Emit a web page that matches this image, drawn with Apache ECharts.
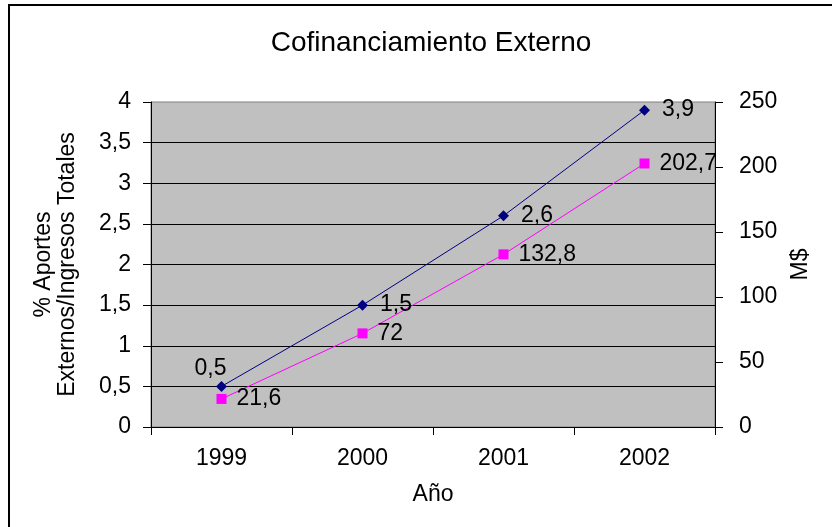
<!DOCTYPE html>
<html>
<head>
<meta charset="utf-8">
<script src="https://cdn.jsdelivr.net/npm/echarts@6/dist/echarts.min.js"></script>
<style>
    html,body{margin:0;padding:0;background:#fff;overflow:hidden;}
    #main{width:832px;height:527px;position:relative;}
    /* marco del grafico, el borde derecho e inferior quedan fuera */
    .marco{position:absolute;left:8px;top:4px;width:900px;height:600px;border:2px solid #000;box-sizing:border-box;pointer-events:none;}
</style>
</head>
<body>
<div id="main"></div>
<div class="marco"></div>
<script>
// datos
var anios = ['1999', '2000', '2001', '2002'];
var porcAportes = [0.5, 1.5, 2.6, 3.9];
var montoMS = [21.6, 72, 132.8, 202.7];

var fuente = 'Liberation Sans';
var tam = 23;

function coma(v) {
    return String(v).replace('.', ',');
}

var chart = echarts.init(document.getElementById('main'));

let option = {
    backgroundColor: 'transparent',
    animation: false,
    textStyle: {fontFamily: fuente},
    title: {
        text: 'Cofinanciamiento Externo',
        left: 426,
        textAlign: 'center',
        top: 24,
        textStyle: {fontFamily: fuente, fontSize: 28, fontWeight: 'normal', color: '#000'}
    },
    grid: {
        left: 151,
        right: 117,
        top: 102,
        bottom: 100,
        show: true,
        backgroundColor: '#c0c0c0',
        borderColor: '#808080',
        borderWidth: 1
    },
    xAxis: {
        type: 'category',
        data: anios,
        boundaryGap: true,
        name: 'Año',
        nameLocation: 'middle',
        nameGap: 56,
        nameTextStyle: {fontFamily: fuente, fontSize: tam, color: '#000'},
        axisLine: {lineStyle: {color: '#000', width: 1}},
        axisTick: {show: true, length: 8, lineStyle: {color: '#000'}},
        axisLabel: {margin: 20, fontFamily: fuente, fontSize: tam, color: '#000'}
    },
    yAxis: [
        {
            type: 'value',
            min: 0,
            max: 4,
            interval: 0.5,
            name: '% Aportes\nExternos/Ingresos Totales',
            nameLocation: 'middle',
            nameRotate: 90,
            nameGap: 71,
            nameTextStyle: {fontFamily: fuente, fontSize: tam, color: '#000', lineHeight: 24},
            axisLine: {show: true, lineStyle: {color: '#000', width: 1}},
            axisTick: {show: true, length: 8, lineStyle: {color: '#000'}},
            axisLabel: {margin: 20, fontFamily: fuente, fontSize: tam, color: '#000', formatter: coma},
            splitLine: {show: true, showMaxLine: false, lineStyle: {color: '#000', width: 1}}
        },
        {
            type: 'value',
            min: 0,
            max: 250,
            interval: 50,
            position: 'right',
            name: 'M$',
            nameLocation: 'middle',
            nameRotate: 90,
            nameGap: 74,
            nameTextStyle: {fontFamily: fuente, fontSize: tam, color: '#000'},
            axisLine: {show: true, lineStyle: {color: '#000', width: 1}},
            axisTick: {show: true, length: 8, lineStyle: {color: '#000'}},
            axisLabel: {margin: 24, fontFamily: fuente, fontSize: tam, color: '#000'},
            splitLine: {show: false}
        }
    ],
    series: [
        {
            name: '% Aportes',
            type: 'line',
            yAxisIndex: 0,
            data: porcAportes.map(function (v, i) {
                if (i == 0) {
                    return {value: v, label: {position: 'top', distance: 1, offset: [-11, 0]}};
                }
                return v;
            }),
            symbol: 'diamond',
            symbolSize: 11,
            showAllSymbol: true,
            lineStyle: {color: '#000080', width: 1},
            itemStyle: {color: '#000080'},
            label: {
                show: true,
                position: 'right',
                distance: 12,
                fontFamily: fuente,
                fontSize: tam,
                color: '#000',
                formatter: function (p) { return coma(p.value); }
            },
            z: 3
        },
        {
            name: 'M$',
            type: 'line',
            yAxisIndex: 1,
            data: montoMS,
            symbol: 'rect',
            symbolSize: 10,
            showAllSymbol: true,
            lineStyle: {color: '#ff00ff', width: 1},
            itemStyle: {color: '#ff00ff'},
            label: {
                show: true,
                position: 'right',
                distance: 10,
                fontFamily: fuente,
                fontSize: tam,
                color: '#000',
                formatter: function (p) { return coma(p.value); }
            },
            z: 2
        }
    ]
};

chart.setOption(option);
</script>
</body>
</html>
